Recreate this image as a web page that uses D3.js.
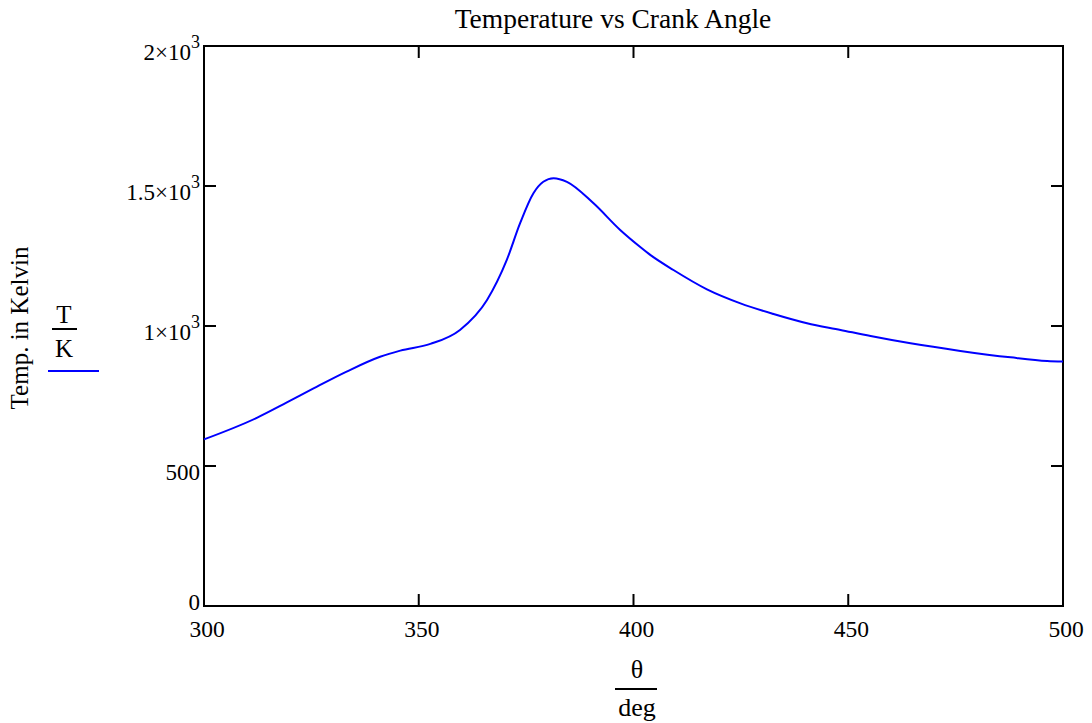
<!DOCTYPE html>
<html><head><meta charset="utf-8">
<script src="https://cdnjs.cloudflare.com/ajax/libs/d3/7.8.5/d3.min.js"></script>
<style>body{margin:0;background:#fff}svg{display:block}text{font-family:"Liberation Serif","Times New Roman",serif;fill:#000}</style>
</head><body><svg id="c" width="1092" height="723"></svg>
<script>
const theta = [300,312.3,319.3,325.5,333.2,341.0,345.7,352.7,359.6,365.9,370.5,373.6,376.7,379,381.4,384.5,390.7,396.9,401.5,403.9,409.3,417.1,424.9,432.6,440.4,448.2,455.2,464.5,476.1,487.8,496.3,500];
const temp  = [595,672,727,777,837,890,912,936,986,1093,1236,1367,1474,1515,1528,1515,1438,1343,1283,1254,1200,1131,1081,1043,1010,986,964,938,911,888,875,873];
const xTicks = [300,350,400,450,500];
const yTicks = [0,500,1000,1500,2000];
const yTickLabels = ["0","500","1×10|3","1.5×10|3","2×10|3"];

const svg = d3.select("#c");
const L=204,R=1063,T=46,B=606;
const x = d3.scaleLinear().domain([300,500]).range([L,R]);
const y = d3.scaleLinear().domain([0,2000]).range([B,T]);

svg.append("rect").attr("x",L).attr("y",T).attr("width",R-L).attr("height",B-T)
  .attr("fill","none").attr("stroke","#000").attr("stroke-width",2);

const tl=12;
xTicks.forEach(v=>{
  svg.append("line").attr("x1",x(v)).attr("x2",x(v)).attr("y1",B).attr("y2",B-tl).attr("stroke","#000").attr("stroke-width",2);
  svg.append("line").attr("x1",x(v)).attr("x2",x(v)).attr("y1",T).attr("y2",T+tl).attr("stroke","#000").attr("stroke-width",2);
  svg.append("text").attr("x",x(v)+3).attr("y",B+31).attr("text-anchor","middle").attr("font-size",23.5).text(v);
});
yTicks.forEach((v,i)=>{
  svg.append("line").attr("x1",L).attr("x2",L+tl).attr("y1",y(v)).attr("y2",y(v)).attr("stroke","#000").attr("stroke-width",2);
  svg.append("line").attr("x1",R).attr("x2",R-tl).attr("y1",y(v)).attr("y2",y(v)).attr("stroke","#000").attr("stroke-width",2);
  const parts = yTickLabels[i].split("|");
  const t = svg.append("text").attr("x",L-4).attr("y",y(v)+(v===0?4:14)).attr("text-anchor","end").attr("font-size",23);
  if(parts.length>1){
    t.append("tspan").text(parts[0]);
    t.append("tspan").attr("dy",-12).attr("font-size",18).text(parts[1]);
  } else t.text(parts[0]);
});

const line = d3.line().x((d,i)=>x(theta[i])).y(d=>y(d)).curve(d3.curveMonotoneX);
svg.append("path").datum(temp).attr("d",line).attr("fill","none").attr("stroke","#0000ff").attr("stroke-width",2);

svg.append("text").attr("x",613).attr("y",28).attr("text-anchor","middle").attr("font-size",27.5).text("Temperature vs Crank Angle");

svg.append("text").attr("transform","translate(28,328) rotate(-90)").attr("text-anchor","middle").attr("font-size",25).text("Temp. in Kelvin");
svg.append("text").attr("x",64).attr("y",323).attr("text-anchor","middle").attr("font-size",25).text("T");
svg.append("line").attr("x1",52).attr("x2",77).attr("y1",329).attr("y2",329).attr("stroke","#000").attr("stroke-width",2);
svg.append("text").attr("x",64).attr("y",357).attr("text-anchor","middle").attr("font-size",25).text("K");
svg.append("line").attr("x1",48).attr("x2",99).attr("y1",371).attr("y2",371).attr("stroke","#0000ff").attr("stroke-width",2);

svg.append("text").attr("x",637).attr("y",678).attr("text-anchor","middle").attr("font-size",26).text("θ");
svg.append("line").attr("x1",615).attr("x2",657).attr("y1",689).attr("y2",689).attr("stroke","#000").attr("stroke-width",2);
svg.append("text").attr("x",637).attr("y",716).attr("text-anchor","middle").attr("font-size",26).text("deg");
</script></body></html>
